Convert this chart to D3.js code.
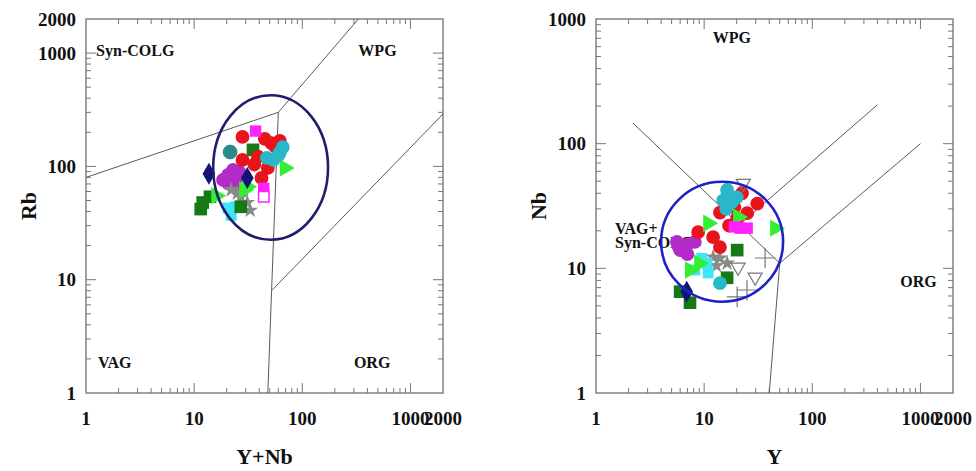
<!DOCTYPE html>
<html><head><meta charset="utf-8">
<script src="https://cdn.jsdelivr.net/npm/d3@7"></script>
<style>body{margin:0;background:#fff}svg{display:block}text{font-family:"Liberation Serif","Times New Roman",serif;font-weight:bold;fill:#111}</style>
</head><body><svg id="c" width="976" height="471"></svg>
<script>
// ---------- tick labels ----------
const xTickLabels = [1, 10, 100, 1000, 2000];
const leftYTickLabels = [1, 10, 100, 1000, 2000];
const rightYTickLabels = [1, 10, 100, 1000];

// ---------- field boundaries (data coords) ----------
const leftBoundaries = [
  [[1, 80], [60, 300]],
  [[60, 300], [330, 2000]],
  [[60, 300], [52, 8], [48, 1]],
  [[52, 8], [2000, 290]]
];
const rightBoundaries = [
  [[2.2, 146], [50, 11]],
  [[50, 11], [40, 1]],
  [[50, 11], [1000, 100]],
  [[22, 23], [400, 205]]
];
const leftFieldLabels = [["Syn-COLG", 1.24, 950], ["WPG", 330, 950], ["VAG", 1.29, 1.65], ["ORG", 300, 1.65]];
const rightFieldLabels = [["WPG", 12, 640], ["VAG+", 1.5, 19], ["Syn-COLG", 1.5, 14.5], ["ORG", 650, 7.1]];

// ellipse bounding boxes [xmin, xmax, ymin, ymax]
const leftEllipse = [15, 173, 22.5, 425];
const rightEllipse = [4.0, 53.7, 5.4, 49.5];

// ---------- samples: Rb vs Y+Nb ----------
const L_red = [[28,182],[45,175],[62,168],[28,114],[39,122],[48,97],[42,79],[56,150],[36,104],[52,160]];
const L_magenta = [[37,205],[44,64]];
const L_openMagenta = [[44,54]];
const L_darkGreen = [[35,140],[12,48],[11.5,42],[14,54],[27,44]];
const L_teal = [[66,148],[47,119],[54,114],[60,125],[62,132]];
const L_tealOpen = [[21.5,134]];
const L_greenTri = [[69,97],[31,66],[29,62],[16,55]];
const L_navy = [[13.7,86],[31,79]];
const L_purple = [[20.6,84],[22.9,93],[20.6,71],[18.5,76],[25,80],[24,66],[27,60],[26,90]];
const L_gray = [[22,62],[27,54],[31,48],[33,41],[25,58]];
const L_cyan = [[20.6,43],[22,37],[24,44]];

// ---------- samples: Nb vs Y ----------
const R_red = [[22.4,40],[31,33],[14,28],[20.2,25.3],[25,27.7],[8.8,19.5],[12.1,17.8],[14,14.8],[17,22],[19,31]];
const R_magenta = [[21.5,21],[25,21],[19,21.5]];
const R_teal = [[16.3,42.5],[15,35],[18,34],[20,37],[16,30],[14,7.6]];
const R_greenTri = [[10.9,23],[45.3,21],[20.6,25.8],[7.4,9.7],[9,11]];
const R_purple = [[5.6,16.3],[6.9,15.4],[6,14],[8.2,16.3],[7,13],[5.8,15]];
const R_darkGreen = [[20.2,14],[16.3,8.4],[6,6.5],[7.4,5.3]];
const R_navy = [[6.9,6.5]];
const R_gray = [[12.1,12.3],[14,12.1],[16.3,11],[13,10.5]];
const R_cyan = [[10.6,11],[10.9,9.2],[8.2,9.7],[9.5,12]];
const R_openTri = [[23,48],[20.6,10.2],[29.6,8.5]];
const R_plus = [[36.6,12.1],[24.9,6.7],[20.2,5.9]];

const svg = d3.select("#c");
svg.append("rect").attr("width",976).attr("height",471).attr("fill","#fff");

function panel(cfg) {
  const x = d3.scaleLog().domain([1, 2000]).range(cfg.xr);
  const y = d3.scaleLog().domain([1, cfg.ymax]).range([393, 19]);
  const g = svg.append("g");
  const [x0, x1] = cfg.xr, y0 = 393, y1 = 19;
  g.append("rect").attr("x", x0).attr("y", y1).attr("width", x1 - x0).attr("height", y0 - y1)
    .attr("fill", "none").attr("stroke", "#7a7a7a").attr("stroke-width", 1.4);
  function tickVals(max) { const v = []; for (let d = 1; d <= 1000; d *= 10) for (let k = 1; k <= 9; k++) { const t = k * d; if (t > 1 && t < max) v.push([t, k === 1]); } return v; }
  tickVals(2000).forEach(([t, maj]) => {
    const len = maj ? 10 : 5, px = x(t);
    g.append("line").attr("x1", px).attr("x2", px).attr("y1", y0).attr("y2", y0 - len).attr("stroke", "#777");
    g.append("line").attr("x1", px).attr("x2", px).attr("y1", y1).attr("y2", y1 + len).attr("stroke", "#777");
  });
  tickVals(cfg.ymax).forEach(([t, maj]) => {
    const len = maj ? 10 : 5, py = y(t);
    g.append("line").attr("x1", x0).attr("x2", x0 + len).attr("y1", py).attr("y2", py).attr("stroke", "#777");
    g.append("line").attr("x1", x1).attr("x2", x1 - len).attr("y1", py).attr("y2", py).attr("stroke", "#777");
  });
  xTickLabels.forEach(t => g.append("text").attr("x", x(t)).attr("y", 425).attr("text-anchor", "middle")
    .attr("font-size", 19).text(t));
  cfg.yLabels.forEach(t => g.append("text").attr("x", x0 - 10).attr("y", y(t)).attr("dy", "0.35em")
    .attr("text-anchor", "end").attr("font-size", 19).text(t));
  g.append("text").attr("x", (x0 + x1) / 2).attr("y", 464).attr("text-anchor", "middle").attr("font-size", 22).text(cfg.xTitle);
  g.append("text").attr("transform", `translate(${x0 - 50},206) rotate(-90)`).attr("text-anchor", "middle").attr("font-size", 22).text(cfg.yTitle);
  const line = d3.line().x(d => x(d[0])).y(d => y(d[1]));
  cfg.bounds.forEach(b => g.append("path").attr("d", line(b)).attr("fill", "none").attr("stroke", "#5a5a5a").attr("stroke-width", 1));
  cfg.fields.forEach(([t, fx, fy]) => g.append("text").attr("x", x(fx)).attr("y", y(fy)).attr("font-size", 16).text(t));
  cfg.series.forEach(s => {
    const sym = d3.symbol().type(s.type).size(s.size || 150);
    g.selectAll(null).data(s.data).enter().append("path")
      .attr("d", sym)
      .attr("transform", d => `translate(${x(d[0])},${y(d[1])}) rotate(${s.rot || 0})`)
      .attr("fill", s.fill).attr("stroke", s.stroke || "none").attr("stroke-width", s.sw || 1);
  });
  const e = cfg.ell;
  const ex0 = x(e[0]), ex1 = x(e[1]), ey0 = y(e[3]), ey1 = y(e[2]);
  g.append("ellipse").attr("cx", (ex0 + ex1) / 2).attr("cy", (ey0 + ey1) / 2)
    .attr("rx", (ex1 - ex0) / 2).attr("ry", (ey1 - ey0) / 2)
    .attr("fill", "none").attr("stroke", cfg.ellColor).attr("stroke-width", 2.6);
}

panel({
  xr: [86, 443], ymax: 2000, yLabels: leftYTickLabels, xTitle: "Y+Nb", yTitle: "Rb",
  bounds: leftBoundaries, fields: leftFieldLabels, ell: leftEllipse, ellColor: "#1f1f6e",
  series: [
    {data: L_purple, type: d3.symbolCircle, fill: "#b32bc8"},
    {data: L_gray, type: d3.symbolStar, fill: "#8a8a8a", size: 80},
    {data: L_cyan, type: d3.symbolSquare, fill: "#3fe6f5", size: 120},
    {data: L_darkGreen, type: d3.symbolSquare, fill: "#157a15", size: 160},
    {data: L_greenTri, type: d3.symbolTriangle, fill: "#33ee33", rot: 90, size: 130},
    {data: L_red, type: d3.symbolCircle, fill: "#e8141c"},
    {data: L_teal, type: d3.symbolCircle, fill: "#2ab7c9"},
    {data: L_tealOpen, type: d3.symbolCircle, fill: "#2a8a8a", stroke: "#2a8a8a"},
    {data: L_magenta, type: d3.symbolSquare, fill: "#ff22ff", size: 130},
    {data: L_openMagenta, type: d3.symbolSquare, fill: "#fff", stroke: "#ff22ff", sw: 1.5, size: 110},
    {data: L_navy, type: d3.symbolDiamond, fill: "#141478", size: 140}
  ]
});

panel({
  xr: [596, 953], ymax: 1000, yLabels: rightYTickLabels, xTitle: "Y", yTitle: "Nb",
  bounds: rightBoundaries, fields: rightFieldLabels, ell: rightEllipse, ellColor: "#2020c8",
  series: [
    {data: R_purple, type: d3.symbolCircle, fill: "#b32bc8"},
    {data: R_gray, type: d3.symbolStar, fill: "#8a8a8a", size: 80},
    {data: R_cyan, type: d3.symbolSquare, fill: "#3fe6f5", size: 120},
    {data: R_darkGreen, type: d3.symbolSquare, fill: "#157a15", size: 160},
    {data: R_red, type: d3.symbolCircle, fill: "#e8141c"},
    {data: R_teal, type: d3.symbolCircle, fill: "#2ab7c9"},
    {data: R_greenTri, type: d3.symbolTriangle, fill: "#33ee33", rot: 90, size: 130},
    {data: R_magenta, type: d3.symbolSquare, fill: "#ff22ff", size: 130},
    {data: R_navy, type: d3.symbolDiamond, fill: "#141478", size: 140},
    {data: R_openTri, type: d3.symbolTriangle2, fill: "none", stroke: "#777", sw: 1.2, rot: 180, size: 140},
    {data: R_plus, type: d3.symbolPlus, fill: "none", stroke: "#777", sw: 1.2, size: 140}
  ]
});
</script></body></html>
